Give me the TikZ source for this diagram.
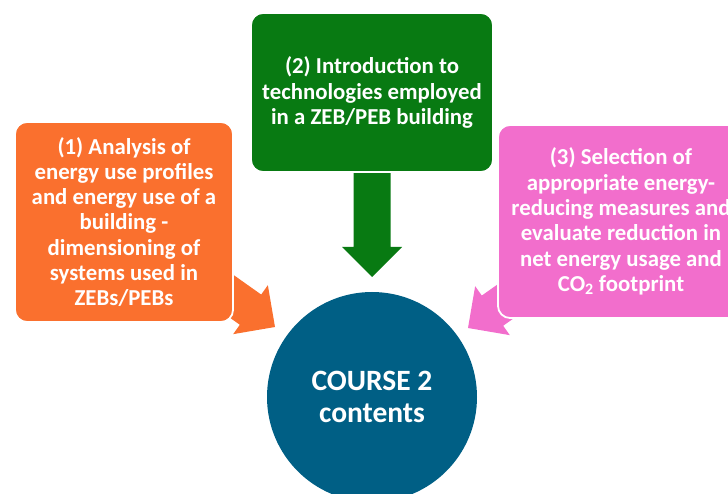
\documentclass[tikz,border=0pt]{standalone}
\usepackage{fontspec}
\setmainfont{Carlito}
\definecolor{boxorange}{RGB}{250,112,46}
\definecolor{boxgreen}{RGB}{8,122,18}
\definecolor{boxpink}{RGB}{242,110,204}
\definecolor{hubblue}{RGB}{0,95,133}
\begin{document}
\begin{tikzpicture}[x=1pt,y=-1pt,
  topic/.style={rounded corners=12pt, draw=white, line width=1.8pt, text=white,
    font=\bfseries\fontsize{22.8}{25.3}\selectfont, align=center, inner sep=0pt},
  hub/.style={circle, fill=hubblue, text=white,
    font=\bfseries\fontsize{29.5}{32}\selectfont, align=center,
    minimum size=210pt, inner sep=0pt},
  pics/blockarrow/.style={code={
    \fill (0,0) -- (-30,30) -- (-30,18.5) -- (-#1,18.5) -- (-#1,-18.5)
      -- (-30,-18.5) -- (-30,-30) -- cycle;}}
]
\useasboundingbox (0,0) rectangle (728,494);

% block arrows pointing at the central circle (drawn first, boxes cover their tails)
\pic[color=boxorange, rotate=-35.3] (arrowone) at (275,327) {blockarrow=80};
\pic[color=boxgreen, rotate=-90] (arrowtwo) at (372,277) {blockarrow=117};
\pic[color=boxpink, rotate=-144.7] (arrowthree) at (468,328) {blockarrow=80};

% topic boxes
\node[topic, fill=boxorange, minimum width=218pt, minimum height=200pt] (analysis) at (124,222)
  {(1) Analysis of\\energy use profiles\\and energy use of a\\building -\\dimensioning of\\systems used in\\ZEBs/PEBs};
\node[topic, fill=boxgreen, minimum width=242pt, minimum height=159pt] (technologies) at (372,92.5)
  {(2) Introduction to\\technologies employed\\in a ZEB/PEB building};
\node[topic, fill=boxpink, minimum width=246pt, minimum height=193pt] (selection) at (621,221.5)
  {(3) Selection of\\appropriate energy-\\reducing measures and\\evaluate reduction in\\net energy usage and\\CO\textsubscript{2} footprint};

% central hub
\node[hub] (course) at (372,397) {COURSE 2\\contents};
\end{tikzpicture}
\end{document}
